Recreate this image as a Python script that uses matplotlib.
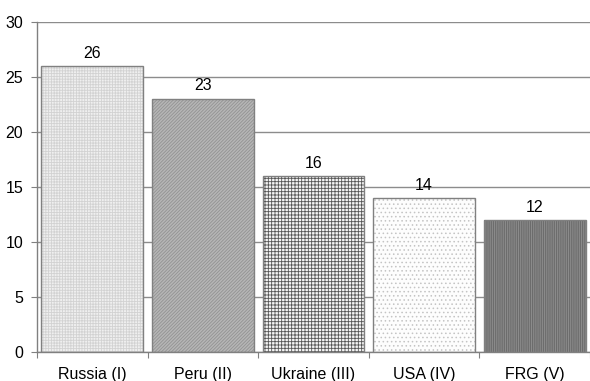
import matplotlib
matplotlib.use("Agg")
import matplotlib.pyplot as plt

categories = ["Russia (I)", "Peru (II)", "Ukraine (III)", "USA (IV)", "FRG (V)"]
values = [26, 23, 16, 14, 12]
y_ticks = [0, 5, 10, 15, 20, 25, 30]

# fill style for each bar: face colour, hatch pattern, hatch colour
styles = [
    ("#efefef", "++++++", "#d2d2d2"),
    ("#b6b6b6", "/" * 10, "#929292"),
    ("#f4f4f4", "+" * 5, "#555555"),
    ("#fdfdfd", "....", "#c4c4c4"),
    ("#8c8c8c", "|" * 9, "#666666"),
]

plt.rcParams["font.family"] = ["Liberation Sans", "DejaVu Sans"]
plt.rcParams["hatch.linewidth"] = 0.6

fig = plt.figure(figsize=(5.9, 3.81), dpi=100)
ax = fig.add_axes([37 / 590, 1 - 352 / 381, 553 / 590, 330 / 381])

FS = 11.5

x = list(range(len(categories)))
bars = ax.bar(x, values, width=0.92, zorder=2)
for bar, (face, hatch, hcol) in zip(bars, styles):
    bar.set_facecolor(face)
    bar.set_hatch(hatch)
    bar.set_edgecolor(hcol)
    bar.set_linewidth(0)
    # outline drawn separately in neutral gray
    ax.add_patch(plt.Rectangle(bar.get_xy(), bar.get_width(), bar.get_height(),
                               fill=False, edgecolor="#808080", linewidth=1.0, zorder=3))

for xi, v in zip(x, values):
    ax.text(xi, v + 0.5, f"{v}", ha="center", va="bottom", fontsize=FS, color="#000000")

ax.set_xlim(-0.5, 4.5)
ax.set_ylim(0, 30)
ax.set_yticks(y_ticks)
ax.set_yticklabels([str(t) for t in y_ticks], fontsize=FS)
ax.yaxis.grid(True, color="#8c8c8c", linewidth=1.0, zorder=0)
ax.set_axisbelow(True)

# category labels sit between tick marks at category boundaries
ax.set_xticks([i - 0.5 for i in range(len(categories) + 1)])
ax.set_xticklabels([])
ax.set_xticks(x, minor=True)
ax.set_xticklabels(categories, minor=True, fontsize=FS)
ax.tick_params(axis="x", which="minor", length=0, pad=11)
ax.tick_params(axis="x", which="major", length=4, color="#808080")
ax.tick_params(axis="y", length=4, color="#808080", pad=6)

for side in ("top", "right"):
    ax.spines[side].set_visible(False)
for side in ("left", "bottom"):
    ax.spines[side].set_color("#808080")
    ax.spines[side].set_linewidth(1.0)

fig.savefig("out.png", dpi=100, facecolor="white")
